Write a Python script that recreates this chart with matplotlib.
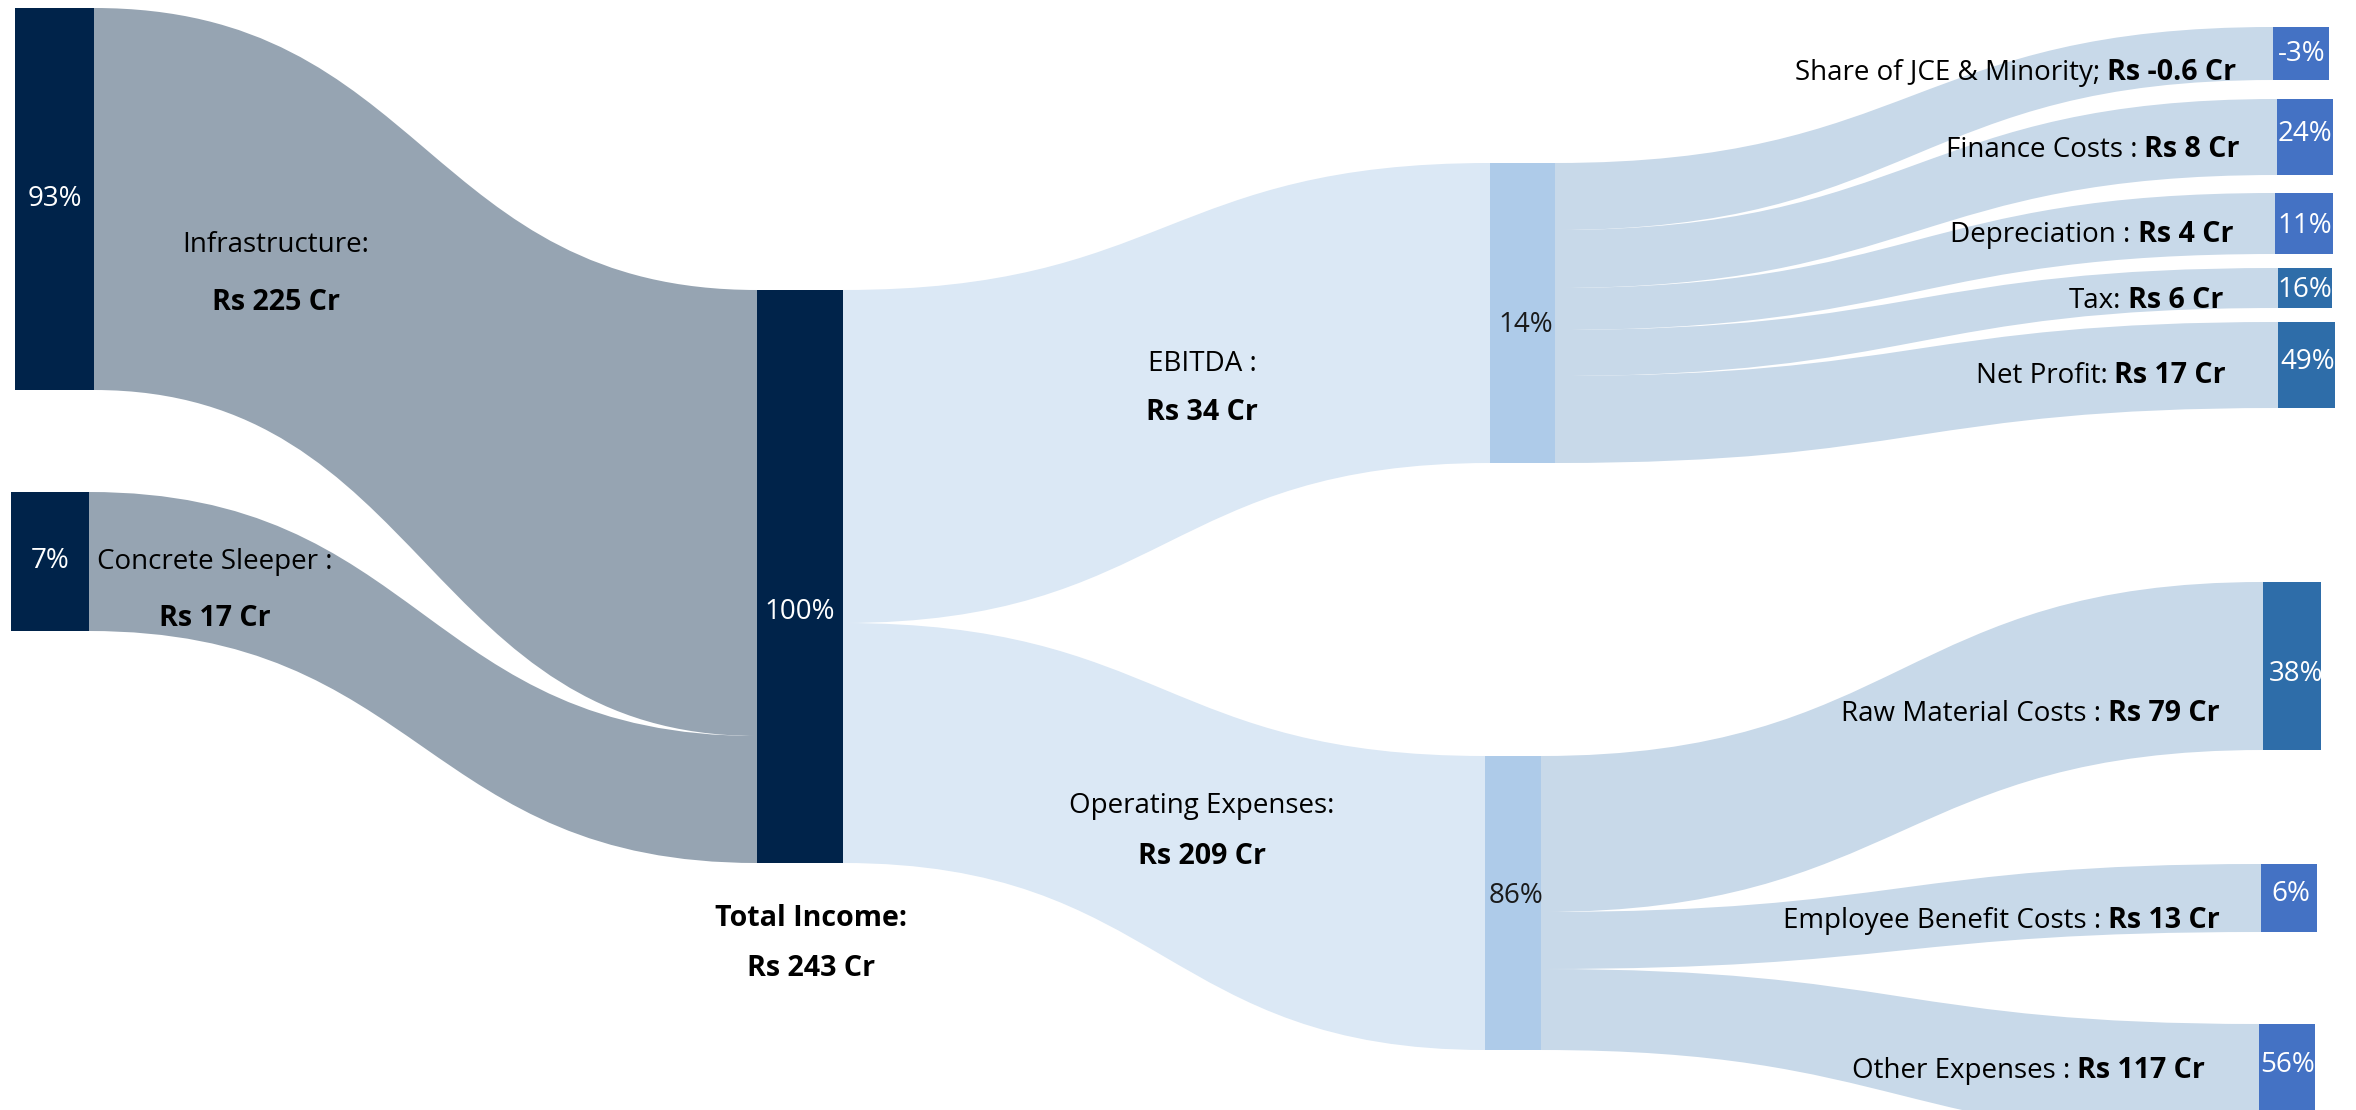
import matplotlib.pyplot as plt
from matplotlib.path import Path
from matplotlib.patches import PathPatch, Rectangle

plt.rcParams['font.family'] = ['Open Sans', 'DejaVu Sans']

# ---- values ----
source_names = ['Infrastructure:', 'Concrete Sleeper :']
source_values = [225, 17]
source_pct = ['93%', '7%']

total_name = 'Total Income:'
total_value = 243
total_pct = '100%'

mid_names = ['EBITDA :', 'Operating Expenses:']
mid_values = [34, 209]
mid_pct = ['14%', '86%']

ebitda_names = ['Share of JCE & Minority;', 'Finance Costs :', 'Depreciation :', 'Tax:', 'Net Profit:']
ebitda_values = [-0.6, 8, 4, 6, 17]
ebitda_pct = ['-3%', '24%', '11%', '16%', '49%']

opex_names = ['Raw Material Costs :', 'Employee Benefit Costs :', 'Other Expenses :']
opex_values = [79, 13, 117]
opex_pct = ['38%', '6%', '56%']

# ---- layout (canvas pixels, origin top-left) ----
W, H = 2356, 1110
src_box = [(15, 94, 8, 390), (11, 89, 492, 631)]
total_box = (757, 843, 290, 863)
total_in_cuts = [290, 736, 863]
total_out_cuts = [290, 623, 863]
mid_box = [(1490, 1555, 163, 463), (1485, 1541, 756, 1050)]
ebitda_cuts = [163, 230, 288, 330, 376, 463]
opex_cuts = [756, 912, 969, 1050]
ebitda_box = [(2273, 2329, 27, 80), (2277, 2333, 99, 175), (2275, 2333, 193, 254),
              (2278, 2332, 268, 308), (2278, 2335, 322, 408)]
opex_box = [(2263, 2321, 582, 750), (2261, 2317, 864, 932), (2259, 2315, 1024, 1140)]

src_lab = [(276, 245, 302), (215, 562, 619)]
total_lab = (811, 918, 968)
mid_lab = [(1202, 364, 412), (1202, 806, 856)]
mid_pct_pos = [(1526, 325), (1516, 896)]
ebitda_lab = [(2236, 80), (2240, 157), (2233, 242), (2223, 308), (2226, 383)]
opex_lab = [(2220, 721), (2220, 928), (2205, 1078)]
ebitda_pct_pos = [(2302, 54), (2305, 134), (2305, 226), (2305, 290), (2308, 362)]
opex_pct_pos = [(2296, 674), (2291, 894), (2288, 1065)]

navy = '#00234A'
grey = '#96A4B2'
pale = '#DBE8F5'
mid_col = '#AECBE9'
right_flow = '#C8D9E9'
blue = '#4472C4'
steel = '#2E6DA9'
ebitda_col = [blue, blue, blue, steel, steel]
opex_col = [steel, blue, blue]
FS = 20
FSB = 20.6


def band(ax, x0, a0, b0, x1, a1, b1, color):
    xm = (x0 + x1) / 2
    verts = [(x0, a0), (xm, a0), (xm, a1), (x1, a1),
             (x1, b1), (xm, b1), (xm, b0), (x0, b0), (x0, a0)]
    codes = [Path.MOVETO, Path.CURVE4, Path.CURVE4, Path.CURVE4,
             Path.LINETO, Path.CURVE4, Path.CURVE4, Path.CURVE4, Path.CLOSEPOLY]
    ax.add_patch(PathPatch(Path(verts, codes), fc=color, ec='none', zorder=1))


def node(ax, box, color):
    x0, x1, y0, y1 = box
    ax.add_patch(Rectangle((x0, y0), x1 - x0, y1 - y0, fc=color, ec='none', zorder=2))


def money(v):
    return f'Rs {v:g} Cr'


def mixed_label(ax, x_right, y_base, plain, bold):
    t = ax.text(x_right, y_base, bold, ha='right', va='baseline',
                fontweight='bold', fontsize=FSB, zorder=3)
    ax.annotate(plain, xy=(0, 0), xycoords=t, xytext=(-5, 0), textcoords='offset points',
                ha='right', va='bottom', fontsize=FS, zorder=3)


fig = plt.figure(figsize=(W / 100, H / 100), dpi=100)
ax = fig.add_axes([0, 0, 1, 1])
ax.set_xlim(0, W)
ax.set_ylim(H, 0)
ax.axis('off')

# sources -> total
for i, box in enumerate(src_box):
    band(ax, box[1], box[2], box[3], total_box[0], total_in_cuts[i], total_in_cuts[i + 1], grey)
    node(ax, box, navy)
    ax.text((box[0] + box[1]) / 2, (box[2] + box[3]) / 2, source_pct[i], color='white',
            ha='center', va='center', fontsize=FS, zorder=3)
    x, y1, y2 = src_lab[i]
    ax.text(x, y1, source_names[i], ha='center', va='center', fontsize=FS, zorder=3)
    ax.text(x, y2, money(source_values[i]), ha='center', va='center', fontsize=FSB,
            fontweight='bold', zorder=3)

# total -> EBITDA / operating expenses
for i, box in enumerate(mid_box):
    band(ax, total_box[1], total_out_cuts[i], total_out_cuts[i + 1], box[0], box[2], box[3], pale)
    node(ax, box, mid_col)
    ax.text(*mid_pct_pos[i], mid_pct[i], color='#1A1A1A', ha='center', va='center',
            fontsize=FS, zorder=3)
    x, y1, y2 = mid_lab[i]
    ax.text(x, y1, mid_names[i], ha='center', va='center', fontsize=FS, zorder=3)
    ax.text(x, y2, money(mid_values[i]), ha='center', va='center', fontsize=FSB,
            fontweight='bold', zorder=3)

node(ax, total_box, navy)
ax.text((total_box[0] + total_box[1]) / 2, 612, total_pct, color='white',
        ha='center', va='center', fontsize=FS, zorder=3)
ax.text(total_lab[0], total_lab[1], total_name, ha='center', va='center', fontsize=FSB,
        fontweight='bold')
ax.text(total_lab[0], total_lab[2], money(total_value), ha='center', va='center',
        fontsize=FSB, fontweight='bold')

# EBITDA split
src = mid_box[0]
for i, box in enumerate(ebitda_box):
    band(ax, src[1], ebitda_cuts[i], ebitda_cuts[i + 1], box[0], box[2], box[3], right_flow)
    node(ax, box, ebitda_col[i])
    ax.text(*ebitda_pct_pos[i], ebitda_pct[i], color='white', ha='center', va='center',
            fontsize=FS, zorder=3)
    mixed_label(ax, *ebitda_lab[i], ebitda_names[i], money(ebitda_values[i]))

# operating expenses split
src = mid_box[1]
for i, box in enumerate(opex_box):
    band(ax, src[1], opex_cuts[i], opex_cuts[i + 1], box[0], box[2], box[3], right_flow)
    node(ax, box, opex_col[i])
    ax.text(*opex_pct_pos[i], opex_pct[i], color='white', ha='center', va='center',
            fontsize=FS, zorder=3)
    mixed_label(ax, *opex_lab[i], opex_names[i], money(opex_values[i]))

fig.savefig('out.png', dpi=100, facecolor='white')
